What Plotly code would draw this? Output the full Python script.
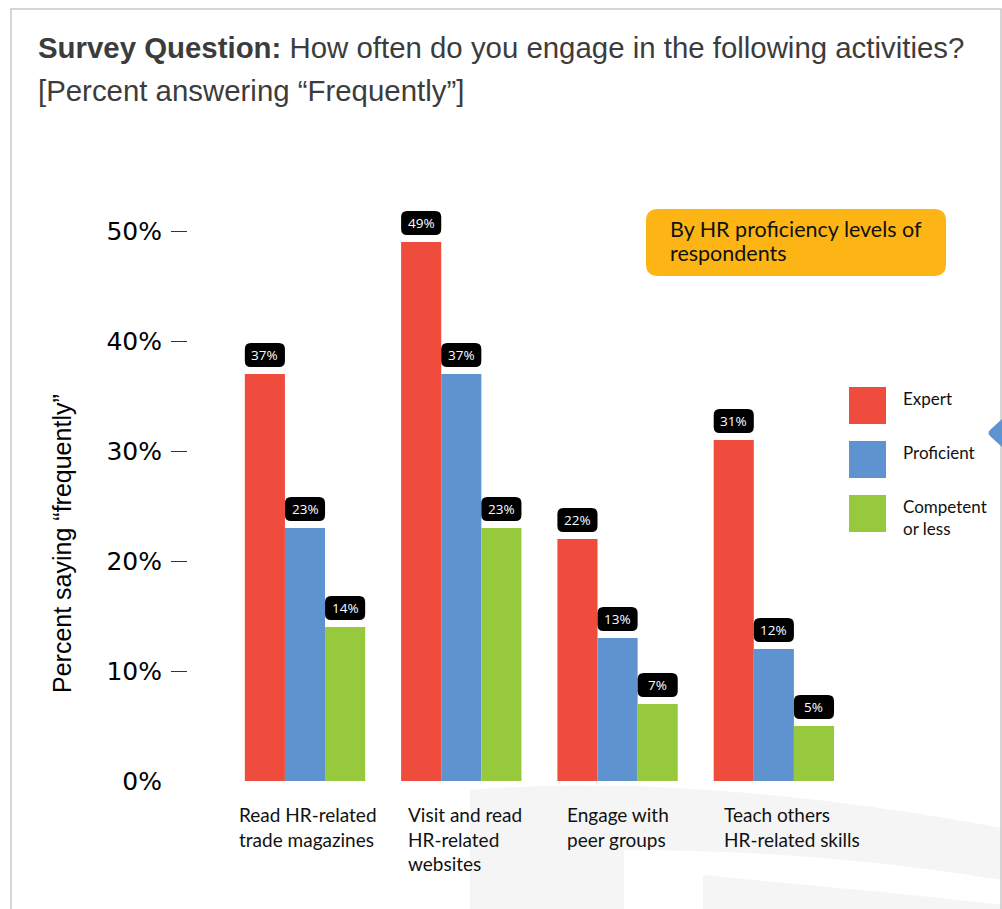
import plotly.graph_objects as go

# ---- data -------------------------------------------------------------
activities = [
    "Read HR-related<br>trade magazines",
    "Visit and read<br>HR-related<br>websites",
    "Engage with<br>peer groups",
    "Teach others<br>HR-related skills",
]
expert = [37, 49, 22, 31]
proficient = [23, 37, 13, 12]
competent = [14, 23, 7, 5]

series_names = ["Expert", "Proficient", "Competent<br>or less"]
series_values = [expert, proficient, competent]
series_colors = ["#F04C3E", "#5E93CF", "#97C93D"]

y_ticks = [0, 10, 20, 30, 40, 50]
y_tick_text = [f"{t}%" for t in y_ticks]

# ---- page geometry (pixels) ------------------------------------------
W, H = 1002, 909


def px(x):
    return x / W


def py(y):
    return 1 - y / H


PLOT_L, PLOT_R = 188, 852
PLOT_TOP, PLOT_BOTTOM = 165, 781
Y_MAX = 56
X_MIN, X_MAX = -0.7486, 3.5
BARGAP = 0.23

x_unit_px = (PLOT_R - PLOT_L) / (X_MAX - X_MIN)
y_unit_px = (PLOT_BOTTOM - PLOT_TOP) / Y_MAX

cats = list(range(len(activities)))
n_series = len(series_values)
bar_w = (1 - BARGAP) / n_series

fig = go.Figure()
for name, vals, col in zip(series_names, series_values, series_colors):
    fig.add_trace(go.Bar(
        x=cats, y=vals, name=name.replace("<br>", " "),
        marker=dict(color=col, line=dict(width=0)),
        showlegend=False, hoverinfo="skip",
    ))

# invisible trace that anchors the secondary y axis (tick marks only)
fig.add_trace(go.Scatter(x=[None], y=[None], yaxis="y2", showlegend=False,
                         hoverinfo="skip"))

shapes = []
annotations = []


def rounded_rect(x0, y0, x1, y1, rx, ry):
    return (f"M {x0 + rx},{y0} L {x1 - rx},{y0} Q {x1},{y0} {x1},{y0 + ry} "
            f"L {x1},{y1 - ry} Q {x1},{y1} {x1 - rx},{y1} "
            f"L {x0 + rx},{y1} Q {x0},{y1} {x0},{y1 - ry} "
            f"L {x0},{y0 + ry} Q {x0},{y0} {x0 + rx},{y0} Z")


# faint background swooshes
bg = "#F5F5F5"
shapes.append(dict(
    type="path", xref="paper", yref="paper", layer="below",
    path=(f"M {px(470)},{py(790)} C {px(650)},{py(775)} {px(850)},{py(800)} {px(1002)},{py(828)} "
          f"L {px(1002)},{py(880)} C {px(880)},{py(860)} {px(760)},{py(850)} {px(624)},{py(850)} "
          f"L {px(624)},{py(909)} L {px(470)},{py(909)} Z"),
    fillcolor=bg, line=dict(width=0),
))
shapes.append(dict(
    type="path", xref="paper", yref="paper", layer="below",
    path=(f"M {px(703)},{py(875)} C {px(800)},{py(885)} {px(900)},{py(893)} {px(1002)},{py(905)} "
          f"L {px(1002)},{py(909)} L {px(703)},{py(909)} Z"),
    fillcolor=bg, line=dict(width=0),
))

# outer frame
shapes.append(dict(
    type="path", xref="paper", yref="paper", layer="above",
    path=f"M {px(11)},{py(912)} L {px(11)},{py(9)} L {px(1001)},{py(9)} L {px(1001)},{py(912)}",
    line=dict(color="#C8C8C8", width=1.5),
))

# value badges above each bar
box_h = 24 / y_unit_px
gap = 7 / y_unit_px
rx = 6 / x_unit_px
ry = 6 / y_unit_px
for i, vals in enumerate(series_values):
    offset = (i - (n_series - 1) / 2) * bar_w
    for c, v in zip(cats, vals):
        xc = c + offset
        x0, x1 = xc - bar_w / 2, xc + bar_w / 2
        y0 = v + gap
        y1 = y0 + box_h
        shapes.append(dict(type="path", xref="x", yref="y",
                           path=rounded_rect(x0, y0, x1, y1, rx, ry),
                           fillcolor="#000000", line=dict(width=0)))
        annotations.append(dict(
            x=xc, y=(y0 + y1) / 2, xref="x", yref="y", text=f"{v}%",
            showarrow=False, xanchor="center", yanchor="middle",
            font=dict(family="Open Sans", size=13.5, color="#FFFFFF"),
        ))

# category labels under the groups
label_shift_px = [-68, -55, -53, -52]
for c, text, sh in zip(cats, activities, label_shift_px):
    annotations.append(dict(
        x=c, y=py(801), xref="x", yref="paper", text=text, showarrow=False,
        xanchor="left", yanchor="top", align="left", xshift=sh,
        font=dict(family="Lato", size=19, color="#111111"),
    ))

# y-axis title
annotations.append(dict(
    x=px(62), y=py(544), xref="paper", yref="paper",
    text="Percent saying “frequently”", textangle=-90, showarrow=False,
    xanchor="center", yanchor="middle",
    font=dict(family="Liberation Sans", size=25, color="#000000"),
))

# heading
annotations.append(dict(
    x=px(36), y=py(47), xref="paper", yref="paper",
    text="<b>Survey Question:</b> How often do you engage in the following activities?",
    showarrow=False, xanchor="left", yanchor="middle",
    font=dict(family="Liberation Sans", size=29.4, color="#3C3C3C"),
))
annotations.append(dict(
    x=px(36), y=py(91), xref="paper", yref="paper",
    text="[Percent answering “Frequently”]",
    showarrow=False, xanchor="left", yanchor="middle",
    font=dict(family="Liberation Sans", size=29.4, color="#3C3C3C"),
))

# orange note
shapes.append(dict(
    type="path", xref="paper", yref="paper",
    path=rounded_rect(px(646), py(276), px(946), py(209), 12 / W, 12 / H),
    fillcolor="#FDB515", line=dict(width=0),
))
for line_text, yc in zip(["By HR proficiency levels of", "respondents"], [229, 253]):
    annotations.append(dict(
        x=px(668), y=py(yc), xref="paper", yref="paper",
        text=line_text, showarrow=False,
        xanchor="left", yanchor="middle", align="left",
        font=dict(family="Lato", size=21.5, color="#111111"),
    ))

# legend
legend_top = [387, 441, 495]
for name, col, top in zip(series_names, series_colors, legend_top):
    shapes.append(dict(
        type="rect", xref="paper", yref="paper",
        x0=px(849), x1=px(886), y0=py(top + 37), y1=py(top),
        fillcolor=col, line=dict(width=0),
    ))
    annotations.append(dict(
        x=px(901), y=py(top - 1), xref="paper", yref="paper", text=name,
        showarrow=False, xanchor="left", yanchor="top", align="left",
        font=dict(family="Lato", size=17, color="#111111"),
    ))

# blue pointer at the right edge
shapes.append(dict(
    type="path", xref="paper", yref="paper",
    path=(f"M {px(1002)},{py(419)} L {px(990)},{py(430)} Q {px(987)},{py(433)} {px(990)},{py(436)} "
          f"L {px(1002)},{py(447)} Z"),
    fillcolor="#5E93CF", line=dict(width=0),
))

fig.update_layout(
    width=W, height=H,
    margin=dict(l=0, r=0, t=0, b=0),
    paper_bgcolor="#FFFFFF", plot_bgcolor="rgba(0,0,0,0)",
    barmode="group", bargap=BARGAP, bargroupgap=0,
    xaxis=dict(domain=[px(PLOT_L), px(PLOT_R)], range=[X_MIN, X_MAX],
               showticklabels=False, showgrid=False, zeroline=False,
               showline=False, ticks="", fixedrange=True),
    yaxis=dict(domain=[py(PLOT_BOTTOM), py(PLOT_TOP)], range=[0, Y_MAX],
               tickvals=y_ticks, ticktext=y_tick_text, ticks="",
               showgrid=False, zeroline=False, showline=False,
               ticklabelstandoff=25, automargin=False,
               tickfont=dict(family="DejaVu Sans", size=25, color="#000000"),
               fixedrange=True),
    yaxis2=dict(overlaying="y", anchor="x", side="left", range=[0, Y_MAX],
                tickvals=y_ticks[1:], showticklabels=False, ticks="outside",
                ticklen=16, tickwidth=1, tickcolor="#333333",
                showgrid=False, zeroline=False, showline=False,
                automargin=False, fixedrange=True),
    shapes=shapes, annotations=annotations,
)

fig.write_html("out.html")
